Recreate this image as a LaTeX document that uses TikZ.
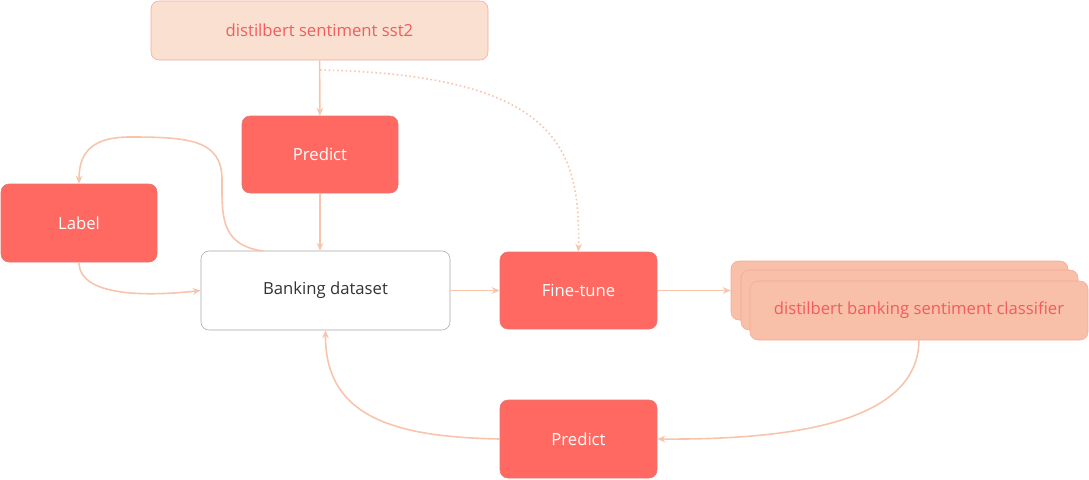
\documentclass[tikz,border=0pt]{standalone}
\usepackage{fontspec}
\setmainfont{Open Sans}
\usetikzlibrary{arrows.meta}
\definecolor{redf}{HTML}{FF6961}
\definecolor{redd}{HTML}{D9534F}
\definecolor{peach}{HTML}{FAE0D0}
\definecolor{peachd}{HTML}{F5A898}
\definecolor{salmon}{HTML}{F8C0A8}
\definecolor{txtred}{HTML}{F25C5C}
\definecolor{conn}{HTML}{F8C4AC}
\begin{document}
\begin{tikzpicture}[x=0.75pt,y=-0.75pt,
  box/.style={draw, rounded corners=6pt, font=\fontsize{12.5}{14}\selectfont, inner sep=0pt},
  act/.style={box, fill=redf, draw=redd!80, text=white},
  model/.style={box, fill=salmon, draw=peachd, text=txtred},
  ar/.style={draw=conn, line width=1.2pt, -{Stealth[length=6pt,width=5pt]}}]
\useasboundingbox (0,0) rectangle (1089,479);
\node[box, fill=peach, draw=peachd, text=txtred, minimum width=337*0.75pt, minimum height=59*0.75pt] (top) at (319.5,30.5) {distilbert sentiment sst2};
\node[act, minimum width=156*0.75pt, minimum height=77*0.75pt] (p1) at (320,154.5) {Predict};
\node[act, minimum width=156*0.75pt, minimum height=78*0.75pt] (lab) at (79,223) {Label};
\node[box, fill=white, draw=gray!70, text=black!80, minimum width=249*0.75pt, minimum height=79*0.75pt] (bank) at (325.5,290.5) {Banking dataset};
\node[act, minimum width=157*0.75pt, minimum height=77*0.75pt] (ft) at (578.5,290.5) {Fine-tune};
\node[model, minimum width=337*0.75pt, minimum height=59*0.75pt] (m1) at (899.5,290.5) {};
\node[model, minimum width=337*0.75pt, minimum height=60*0.75pt] (m2) at (909.5,300) {};
\node[model, minimum width=338*0.75pt, minimum height=59*0.75pt] (m3) at (919,310.5) {distilbert banking sentiment classifier};
\node[act, minimum width=157*0.75pt, minimum height=78*0.75pt] (p2) at (578.5,439) {Predict};
\coordinate (c1) at (320,70);
\coordinate (c2) at (263,251);
\draw[ar] (top) -- (p1);
\draw[ar] (p1.south) -- (p1.south |- bank.north);
\draw[ar, dotted] (c1) .. controls (560,75) and (580,150) .. (ft.north);
\draw[ar] (lab.south) .. controls (79,300) and (160,295) .. (bank.west);
\draw[ar] (c2) .. controls (220,245) and (222,215) .. (222,180) .. controls (222,140) and (190,137) .. (130,137) .. controls (95,137) and (79,150) .. (lab.north);
\draw[ar] (bank) -- (ft);
\draw[ar] (ft) -- (m1.west);
\draw[ar] (m3.south) .. controls (918,420) and (800,440) .. (p2.east);
\draw[ar] (p2.west) .. controls (400,437) and (325,420) .. (bank.south);
\end{tikzpicture}
\end{document}
